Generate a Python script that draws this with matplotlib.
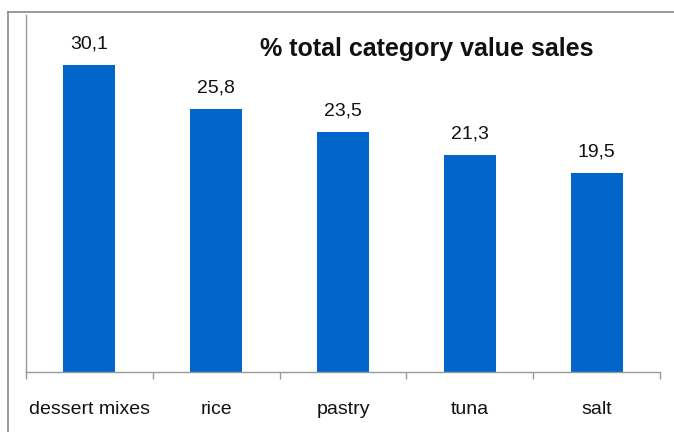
import matplotlib
matplotlib.use("Agg")
import matplotlib.pyplot as plt
from matplotlib.lines import Line2D

categories = ["dessert mixes", "rice", "pastry", "tuna", "salt"]
values = [30.1, 25.8, 23.5, 21.3, 19.5]
value_labels = ["30,1", "25,8", "23,5", "21,3", "19,5"]
title = "% total category value sales"

fam = ["Liberation Sans Narrow", "Liberation Sans", "DejaVu Sans"]
plt.rcParams["font.family"] = fam

W, H = 674, 432
fig = plt.figure(figsize=(W / 100, H / 100), dpi=100)
ax = fig.add_axes([26 / W, (H - 372) / H, (660 - 26) / W, (372 - 15) / H])

x = list(range(len(categories)))
bars = ax.bar(x, values, width=0.41, color="#0066CC", zorder=2)
ax.set_xlim(-0.5, len(categories) - 0.5)
ax.set_ylim(0, 35)

for xi, v, lab in zip(x, values, value_labels):
    ax.annotate(lab, (xi, v), xytext=(0, 9), textcoords="offset points",
                ha="center", va="bottom", fontsize=14, color="#111111")

ax.set_xticks(x)
ax.set_xticklabels(categories, fontsize=14, color="#111111")
ax.tick_params(axis="x", which="major", length=0, pad=21)
ax.set_xticks([i - 0.5 for i in range(len(categories) + 1)], minor=True)
ax.tick_params(axis="x", which="minor", length=5, width=1, color="#999999")
ax.set_yticks([])

for s in ["top", "right"]:
    ax.spines[s].set_visible(False)
for s in ["left", "bottom"]:
    ax.spines[s].set_color("#999999")
    ax.spines[s].set_linewidth(1)

fig.text(427 / W, 1 - 49 / H, title, ha="center", va="center",
         fontsize=18, fontweight="bold", color="#111111")

# outer frame (top and left edges visible)
fig.add_artist(Line2D([8 / W, 1.0], [1 - 12 / H, 1 - 12 / H], color="#888888", lw=1.2,
                      transform=fig.transFigure))
fig.add_artist(Line2D([8 / W, 8 / W], [0, 1 - 12 / H], color="#888888", lw=1.2,
                      transform=fig.transFigure))

fig.savefig("out.png", dpi=100)
